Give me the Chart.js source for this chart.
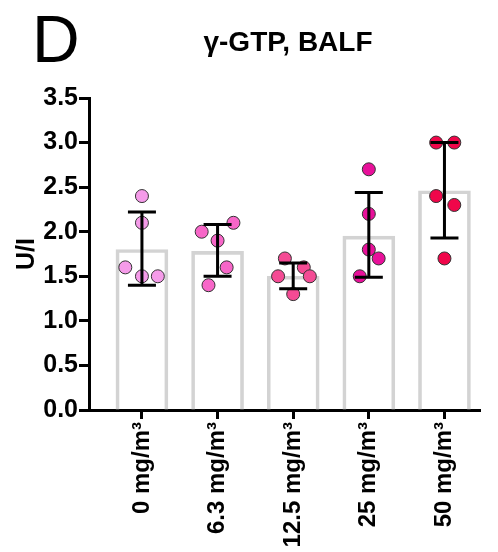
<!DOCTYPE html>
<html>
<head>
<meta charset="utf-8">
<script src="https://cdn.jsdelivr.net/npm/chart.js@4.4.1/dist/chart.umd.min.js"></script>
<style>
  html, body { margin: 0; padding: 0; background: #fff; }
  #wrap { position: relative; width: 498px; height: 552px; }
</style>
</head>
<body>
<div id="wrap"><canvas id="chart"></canvas></div>
<script>
// ---------------------------------------------------------------
// DATA
// ---------------------------------------------------------------
const categories = ["0 mg/m³", "6.3 mg/m³", "12.5 mg/m³", "25 mg/m³", "50 mg/m³"];
const barMeans   = [1.80, 1.78, 1.50, 1.95, 2.46];
const errLow     = [1.40, 1.50, 1.36, 1.49, 1.93];
const errHigh    = [2.22, 2.08, 1.65, 2.44, 3.00];

// individual animals per group (value, horizontal jitter in category units)
const pts0 = [2.4, 2.1, 1.6, 1.5, 1.5];
const jit0 = [0, 0, -0.22, 0, 0.21];
const pts1 = [2.0, 2.1, 1.9, 1.6, 1.4];
const jit1 = [-0.21, 0.21, 0, 0.12, -0.12];
const pts2 = [1.7, 1.6, 1.5, 1.5, 1.3];
const jit2 = [-0.11, 0.14, 0.22, -0.2, 0];
const pts3 = [2.7, 2.2, 1.8, 1.7, 1.5];
const jit3 = [0, 0, 0, 0.13, -0.12];
const pts4 = [3.0, 3.0, 2.4, 2.3, 1.7];
const jit4 = [-0.11, 0.13, -0.11, 0.13, 0];

const groupColors = ["#f59be9", "#f766c8", "#f44b94", "#e8109a", "#f0064a"];
const yTicks = [0, 0.5, 1.0, 1.5, 2.0, 2.5, 3.0, 3.5];

// ---------------------------------------------------------------
// build datasets
// ---------------------------------------------------------------
const groups = [[pts0, jit0], [pts1, jit1], [pts2, jit2], [pts3, jit3], [pts4, jit4]];
const scatterData = [];
const scatterColors = [];
groups.forEach(([vals, jit], g) => {
  vals.forEach((v, i) => {
    scatterData.push({ x: g + jit[i], y: v });
    scatterColors.push(groupColors[g]);
  });
});

const FONT = "Arial, 'Liberation Sans', Helvetica, sans-serif";

// error bars (SD) drawn on top of points
const errorBars = {
  id: "errorBars",
  afterDatasetsDraw(chart) {
    const { ctx, scales: { x, y } } = chart;
    ctx.save();
    ctx.strokeStyle = "#000";
    ctx.lineWidth = 3;
    ctx.lineCap = "butt";
    barMeans.forEach((m, i) => {
      const cx = x.getPixelForValue(i);
      const yl = y.getPixelForValue(errLow[i]);
      const yh = y.getPixelForValue(errHigh[i]);
      ctx.beginPath();
      ctx.moveTo(cx, yl); ctx.lineTo(cx, yh);
      ctx.moveTo(cx - 14, yl); ctx.lineTo(cx + 14, yl);
      ctx.moveTo(cx - 14, yh); ctx.lineTo(cx + 14, yh);
      ctx.stroke();
    });
    ctx.restore();
  }
};

// panel letter + title
const headings = {
  id: "headings",
  afterDraw(chart) {
    const { ctx } = chart;
    ctx.save();
    ctx.fillStyle = "#000";
    ctx.textBaseline = "alphabetic";
    ctx.textAlign = "left";
    ctx.font = "66px " + FONT;
    ctx.fillText("D", 32, 62);
    ctx.textAlign = "center";
    ctx.font = "bold 28px " + FONT;
    ctx.fillText("γ-GTP, BALF", 288, 51);
    ctx.restore();
  }
};

new Chart(document.getElementById("chart"), {
  data: {
    datasets: [
      {
        type: "scatter",
        data: scatterData,
        backgroundColor: scatterColors,
        borderColor: "#333",
        borderWidth: 1,
        pointRadius: 6.5,
        order: 1,
      },
      {
        type: "bar",
        data: barMeans.map((v, i) => ({ x: i, y: v })),
        backgroundColor: "rgba(255,255,255,0)",
        borderColor: "#d3d3d3",
        borderWidth: 3,
        barThickness: 52,
        order: 2,
      },
    ],
  },
  options: {
    responsive: true,
    maintainAspectRatio: false,
    animation: false,
    layout: { padding: { top: 98, right: 18, left: 0, bottom: 0 } },
    plugins: {
      legend: { display: false },
      tooltip: { enabled: false },
      title: { display: false },
    },
    scales: {
      x: {
        type: "linear",
        offset: false,
        min: -0.7,
        max: 4.47,
        afterBuildTicks: (s) => { s.ticks = categories.map((_, i) => ({ value: i })); },
        afterFit: (s) => { s.height = 142; },
        ticks: {
          autoSkip: false,
          minRotation: 90,
          maxRotation: 90,
          color: "#000",
          padding: 3,
          font: { family: FONT, size: 24, weight: "bold" },
          callback: (v) => categories[v],
        },
        grid: { offset: false, drawOnChartArea: false, drawTicks: true, tickLength: 9, tickWidth: 3, color: "#000" },
        border: { display: true, width: 3, color: "#000" },
      },
      y: {
        min: 0,
        max: 3.5,
        afterBuildTicks: (s) => { s.ticks = yTicks.map((v) => ({ value: v })); },
        afterFit: (s) => { s.width = 89; },
        ticks: {
          color: "#000",
          padding: 1,
          font: { family: FONT, size: 25, weight: "bold" },
          callback: (v) => v.toFixed(1),
        },
        title: {
          display: true,
          text: "U/I",
          color: "#000",
          padding: { top: 12, bottom: 0 },
          font: { family: FONT, size: 25, weight: "bold" },
        },
        grid: { drawOnChartArea: false, drawTicks: true, tickLength: 10, tickWidth: 3, color: "#000" },
        border: { display: true, width: 3, color: "#000" },
      },
    },
  },
  plugins: [errorBars, headings],
});
</script>
</body>
</html>
